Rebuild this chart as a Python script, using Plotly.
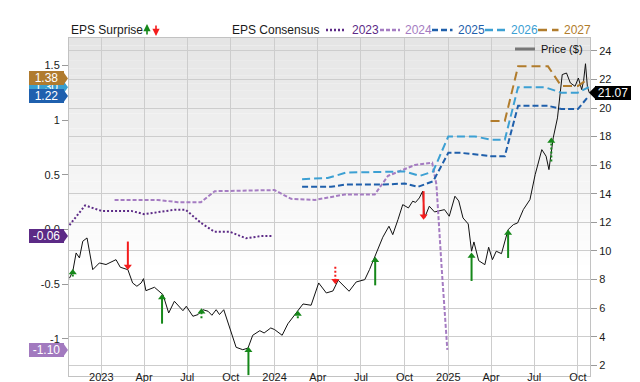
import plotly.graph_objects as go

# ------------------------------------------------------------------ data
price_dates = [
    "2022-10-26", "2022-11-02", "2022-11-09", "2022-11-16", "2022-11-23", "2022-12-02",
    "2022-12-14", "2022-12-28", "2023-01-11", "2023-01-22", "2023-02-01", "2023-02-10",
    "2023-02-26", "2023-03-08", "2023-03-17", "2023-03-26", "2023-03-31", "2023-04-05",
    "2023-04-23", "2023-05-11", "2023-05-23", "2023-06-04", "2023-06-13", "2023-06-22",
    "2023-06-29", "2023-07-13", "2023-07-24", "2023-08-03", "2023-08-14", "2023-08-22",
    "2023-08-31", "2023-09-07", "2023-09-16", "2023-09-28", "2023-10-12", "2023-10-26",
    "2023-11-06", "2023-11-16", "2023-12-01", "2023-12-10", "2023-12-24", "2024-01-01",
    "2024-01-17", "2024-01-29", "2024-02-12", "2024-03-01", "2024-03-18", "2024-04-03",
    "2024-04-19", "2024-05-03", "2024-05-14", "2024-05-26", "2024-06-06", "2024-06-21",
    "2024-07-09", "2024-07-19", "2024-07-31", "2024-08-16", "2024-08-29", "2024-09-06",
    "2024-09-17", "2024-09-27", "2024-10-09", "2024-10-18", "2024-10-24", "2024-11-01",
    "2024-11-08", "2024-11-12", "2024-11-22", "2024-12-03", "2024-12-24", "2025-01-03",
    "2025-01-15", "2025-01-23", "2025-02-01", "2025-02-12", "2025-02-19", "2025-02-24",
    "2025-03-06", "2025-03-19", "2025-03-27", "2025-04-04", "2025-04-12", "2025-04-23",
    "2025-05-07", "2025-05-18", "2025-05-27", "2025-06-08", "2025-06-22", "2025-07-03",
    "2025-07-17", "2025-07-26", "2025-08-01", "2025-08-10", "2025-08-19", "2025-08-29",
    "2025-09-07", "2025-09-15", "2025-09-25", "2025-10-02", "2025-10-09", "2025-10-13",
    "2025-10-17", "2025-10-21", "2025-10-25",
]
price_vals = [
    8.09, 8.58, 9.86, 9.51, 10.68, 10.91,
    8.69, 9.16, 9.05, 9.20, 9.39, 8.86,
    8.69, 7.76, 7.53, 7.76, 8.06, 7.22,
    7.46, 6.94, 5.66, 6.48, 6.13, 5.82,
    6.13, 5.43, 5.55, 5.89, 5.78, 5.50,
    5.89, 5.55, 5.89, 4.61, 3.26, 3.09,
    3.20, 4.10, 4.42, 4.26, 4.61, 4.50,
    4.10, 4.90, 5.50, 6.29, 6.20, 7.76,
    7.06, 7.20, 7.95, 7.57, 7.18, 7.83,
    7.99, 8.69, 9.70, 10.96, 11.73, 11.14,
    12.19, 13.24, 13.01, 13.48, 13.40, 13.71,
    14.18, 12.31, 13.13, 12.73, 12.89, 12.43,
    13.83, 13.50, 12.31, 11.89, 9.98, 10.63,
    9.32, 9.04, 10.26, 9.39, 9.98, 9.81,
    11.49, 11.84, 11.96, 12.89, 13.59, 15.34,
    17.09, 16.63, 15.69, 17.91, 19.31, 22.34,
    22.45, 21.76, 21.52, 22.10, 21.29, 21.90,
    23.10, 21.50, 21.07,
]

eps2023_dates = ["2022-10-26", "2022-11-28", "2023-01-01", "2023-03-05", "2023-04-01",
                 "2023-05-06", "2023-06-04", "2023-06-28", "2023-07-30", "2023-08-27",
                 "2023-09-28", "2023-11-02", "2023-12-04", "2023-12-29"]
eps2023_vals = [0.04, 0.22, 0.17, 0.17, 0.14, 0.16, 0.18, 0.18, 0.06, -0.02,
                -0.02, -0.08, -0.06, -0.06]

eps2024_dates = ["2023-01-29", "2023-04-30", "2023-06-11", "2023-07-30", "2023-08-28",
                 "2024-01-01", "2024-02-05", "2024-03-26", "2024-05-28", "2024-07-30",
                 "2024-08-27", "2024-10-23", "2024-11-28", "2024-12-07", "2024-12-18",
                 "2024-12-30"]
eps2024_vals = [0.27, 0.27, 0.25, 0.25, 0.35, 0.36, 0.28, 0.27, 0.32, 0.32,
                0.49, 0.59, 0.61, 0.41, -0.35, -1.10]

eps2025_dates = ["2024-02-28", "2024-04-29", "2024-05-28", "2024-08-19", "2024-10-01",
                 "2024-10-29", "2024-11-30", "2025-01-01", "2025-01-28", "2025-03-31",
                 "2025-04-30", "2025-05-28", "2025-07-30", "2025-08-27", "2025-10-01",
                 "2025-10-24"]
eps2025_vals = [0.39, 0.39, 0.41, 0.41, 0.42, 0.39, 0.44, 0.70, 0.70, 0.67,
                0.67, 1.13, 1.13, 1.10, 1.10, 1.22]

eps2026_dates = ["2024-02-28", "2024-04-22", "2024-05-31", "2024-08-26", "2024-10-01",
                 "2024-11-02", "2024-11-30", "2025-01-01", "2025-02-26", "2025-04-01",
                 "2025-04-30", "2025-05-28", "2025-07-23", "2025-08-27", "2025-10-01",
                 "2025-10-24"]
eps2026_vals = [0.46, 0.47, 0.52, 0.53, 0.53, 0.49, 0.53, 0.85, 0.85, 0.82,
                0.82, 1.30, 1.30, 1.25, 1.25, 1.30]

eps2027_dates = ["2025-03-31", "2025-04-30", "2025-05-28", "2025-07-30", "2025-08-27",
                 "2025-10-01", "2025-10-24"]
eps2027_vals = [0.99, 0.99, 1.49, 1.49, 1.31, 1.31, 1.38]

# EPS surprise arrows: from -> to (EPS axis), dotted = small surprise
surprise_dates = ["2022-11-02", "2023-02-26", "2023-05-09", "2023-07-31", "2023-11-07",
                  "2024-02-19", "2024-05-08", "2024-07-31", "2024-11-10", "2025-02-19",
                  "2025-05-07", "2025-08-06"]
surprise_from = [-0.43, -0.11, -0.86, -0.81, -1.33, -0.81, -0.34, -0.51, 0.35, -0.47, -0.26, 0.62]
surprise_to = [-0.36, -0.37, -0.59, -0.72, -1.07, -0.74, -0.50, -0.25, 0.09, -0.21, 0.00, 0.84]
surprise_dotted = [True, False, False, True, False, True, True, False, False, False, False, True]

xtick_vals = ["2023-01-01", "2023-04-01", "2023-07-01", "2023-10-01",
              "2024-01-01", "2024-04-01", "2024-07-01", "2024-10-01",
              "2025-01-01", "2025-04-01", "2025-07-01", "2025-10-01"]
xtick_text = ["2023", "Apr", "Jul", "Oct", "2024", "Apr", "Jul", "Oct",
              "2025", "Apr", "Jul", "Oct"]
eps_tick_vals = [-1, -0.5, 0, 0.5, 1, 1.5]
eps_tick_text = ["-1", "-0.5", "0.0", "0.5", "1", "1.5"]
price_tick_vals = [2, 4, 6, 8, 10, 12, 14, 16, 18, 20, 22, 24]

series_names = ["2023", "2024", "2025", "2026", "2027"]

# ------------------------------------------------------------------ style
W, H = 640, 382
ML, MR, MT, MB = 61, 58, 30, 14
PW, PH = W - ML - MR, H - MT - MB
X_RANGE = ["2022-10-25", "2025-10-26 12:00"]
EPS_RANGE = [-1.338, 1.749]
PRICE_RANGE = [1.25, 24.90]
FONT = "Liberation Sans, Arial, Helvetica, sans-serif"
GRID = "#cdcdcd"
GREEN = "#16881a"
RED = "#f41c1c"

series_style = {
    "2023": dict(color="#5c2a86", dash="2px,2px", tag_color="#5c2a86"),
    "2024": dict(color="#a57cc2", dash="4px,2px", tag_color="#a27abf"),
    "2025": dict(color="#1f5fab", dash="6px,3px", tag_color="#1f60ae"),
    "2026": dict(color="#3ca0d3", dash="8px,4px", tag_color="#3a9fcf"),
    "2027": dict(color="#b17c2c", dash="9px,5px", tag_color="#b07b2e"),
}
series_data = {
    "2023": (eps2023_dates, eps2023_vals),
    "2024": (eps2024_dates, eps2024_vals),
    "2025": (eps2025_dates, eps2025_vals),
    "2026": (eps2026_dates, eps2026_vals),
    "2027": (eps2027_dates, eps2027_vals),
}


def px2x(px):
    return (px - ML) / PW


def px2y(py):
    return (MT + PH - py) / PH


fig = go.Figure()

# price line (base axis, right side)
fig.add_trace(go.Scatter(x=price_dates, y=price_vals, mode="lines", yaxis="y",
                         line=dict(color="#111111", width=1), hoverinfo="skip"))

# consensus lines (EPS axis, left side)
for name in series_names:
    d, v = series_data[name]
    st = series_style[name]
    fig.add_trace(go.Scatter(x=d, y=v, mode="lines", yaxis="y2",
                             line=dict(color=st["color"], width=2, dash=st["dash"]),
                             hoverinfo="skip"))

# surprise arrows
eps_per_px = (EPS_RANGE[1] - EPS_RANGE[0]) / PH
head_off = 3.5 * eps_per_px
for color, up in ((GREEN, True), (RED, False)):
    for dotted in (False, True):
        xs, ys, hx, hy = [], [], [], []
        for d, f, t, dt in zip(surprise_dates, surprise_from, surprise_to, surprise_dotted):
            if (t > f) != up or dt != dotted:
                continue
            hc = t - head_off if up else t + head_off
            xs += [d, d, None]
            ys += [f, hc, None]
            hx.append(d)
            hy.append(hc)
        if not hx:
            continue
        fig.add_trace(go.Scatter(x=xs, y=ys, mode="lines", yaxis="y2",
                                 line=dict(color=color, width=2,
                                           dash="2px,2px" if dotted else "solid"),
                                 hoverinfo="skip"))
        fig.add_trace(go.Scatter(x=hx, y=hy, mode="markers", yaxis="y2",
                                 marker=dict(symbol="triangle-up" if up else "triangle-down",
                                             size=7, color=color, line=dict(width=0)),
                                 hoverinfo="skip"))

shapes = []
annotations = []

# background gradient (top grey -> white)
N = 30
g_top, g_bot = 1.0, 0.33
for i in range(N):
    y1 = g_top - (g_top - g_bot) * i / N
    y0 = g_top - (g_top - g_bot) * (i + 1) / N
    c = int(229 + (255 - 229) * (i + 0.5) / N)
    shapes.append(dict(type="rect", xref="paper", yref="paper", x0=0, x1=1, y0=y0, y1=y1,
                       layer="below", line=dict(width=0),
                       fillcolor=f"rgb({c},{c},{c})"))

# left value tags (last consensus values)
tag_order = ["2023", "2024", "2026", "2027", "2025"]
for name in tag_order:
    d, v = series_data[name]
    val = v[-1]
    col = series_style[name]["tag_color"]
    shapes.append(dict(type="path", xref="paper", yref="y2", xsizemode="pixel",
                       ysizemode="pixel", xanchor=0, yanchor=val,
                       path="M-6,-7 L-1,0 L-6,7 Z", fillcolor=col, line=dict(width=0),
                       layer="above"))
    annotations.append(dict(xref="paper", yref="y2", x=0, y=val, xanchor="right",
                            yanchor="middle", xshift=-5, showarrow=False,
                            text=f"{val:.2f}", width=35, height=14, borderpad=0,
                            borderwidth=0, bgcolor=col,
                            font=dict(color="white", size=12, family=FONT)))

# right price tag
last_price = price_vals[-1]
shapes.append(dict(type="path", xref="paper", yref="y", xsizemode="pixel",
                   ysizemode="pixel", xanchor=1, yanchor=last_price,
                   path="M6,-7 L-1,0 L6,7 Z", fillcolor="black", line=dict(width=0),
                   layer="above"))
annotations.append(dict(xref="paper", yref="y", x=1, y=last_price, xanchor="left",
                        yanchor="middle", xshift=5, showarrow=False,
                        text=f"{last_price:.2f}", width=36, height=14, borderpad=0,
                        borderwidth=0, bgcolor="black",
                        font=dict(color="white", size=12, family=FONT)))

# top legend
LEG_Y = px2y(22)
annotations.append(dict(xref="paper", yref="paper", x=0, y=LEG_Y, xanchor="left",
                        yanchor="middle", showarrow=False, text="EPS Surprise",
                        font=dict(size=12, color="#1a1a1a", family=FONT)))
annotations.append(dict(xref="paper", yref="paper", x=px2x(139), y=px2y(16), ax=0, ay=12,
                        text="", showarrow=True, arrowhead=2, arrowsize=0.9, arrowwidth=1.6,
                        arrowcolor=GREEN))
annotations.append(dict(xref="paper", yref="paper", x=px2x(148), y=px2y(28), ax=0, ay=-12,
                        text="", showarrow=True, arrowhead=2, arrowsize=0.9, arrowwidth=1.6,
                        arrowcolor=RED))
annotations.append(dict(xref="paper", yref="paper", x=px2x(221.6), y=LEG_Y, xanchor="left",
                        yanchor="middle", showarrow=False, text="EPS Consensus",
                        font=dict(size=12, color="#1a1a1a", family=FONT)))
leg_samples = {"2023": (318, 338, 341.8), "2024": (372, 392, 394.7),
               "2025": (424, 444.5, 447.7), "2026": (477, 497, 500.6),
               "2027": (530, 550.5, 553.6)}
for name in series_names:
    a, b, t = leg_samples[name]
    st = series_style[name]
    shapes.append(dict(type="line", xref="paper", yref="paper", x0=px2x(a), x1=px2x(b),
                       y0=LEG_Y, y1=LEG_Y, line=dict(color=st["color"], width=2.5,
                                                     dash=st["dash"])))
    annotations.append(dict(xref="paper", yref="paper", x=px2x(t), y=LEG_Y,
                            xanchor="left", yanchor="middle", showarrow=False, text=name,
                            font=dict(size=12, color=st["color"], family=FONT)))

# price legend inside plot
shapes.append(dict(type="line", xref="paper", yref="paper", x0=px2x(507), x1=px2x(527),
                   y0=px2y(41), y1=px2y(41), line=dict(color="#777777", width=3)))
annotations.append(dict(xref="paper", yref="paper", x=px2x(531), y=px2y(41),
                        xanchor="left", yanchor="middle", showarrow=False,
                        text="Price ($)", font=dict(size=11, color="#111", family=FONT)))

fig.update_layout(
    width=W, height=H,
    margin=dict(l=ML, r=MR, t=MT, b=MB, autoexpand=False),
    paper_bgcolor="white", plot_bgcolor="white",
    showlegend=False,
    font=dict(family=FONT, size=11, color="#1a1a1a"),
    xaxis=dict(type="date", range=X_RANGE, tickvals=xtick_vals, ticktext=xtick_text,
               showgrid=True, gridcolor=GRID, gridwidth=1, ticks="", showline=True,
               linecolor="#c2c2c2", linewidth=1, mirror=True, zeroline=False,
               tickfont=dict(size=11), automargin=False, fixedrange=True,
               ticklabelstandoff=-9),
    yaxis=dict(side="right", range=PRICE_RANGE, tickvals=price_tick_vals,
               showgrid=True, gridcolor=GRID, gridwidth=1, ticks="outside", ticklen=6,
               tickcolor="#9a9a9a", showline=True, linecolor="#c2c2c2", zeroline=False,
               tickfont=dict(size=11), automargin=False, fixedrange=True),
    yaxis2=dict(side="left", overlaying="y", range=EPS_RANGE, tickvals=eps_tick_vals,
                ticktext=eps_tick_text, showgrid=False, ticks="outside", ticklen=6,
                tickcolor="#9a9a9a", showline=True, linecolor="#c2c2c2", zeroline=False,
                tickfont=dict(size=11), automargin=False, fixedrange=True),
    shapes=shapes,
    annotations=annotations,
)

fig.write_html("out.html")
